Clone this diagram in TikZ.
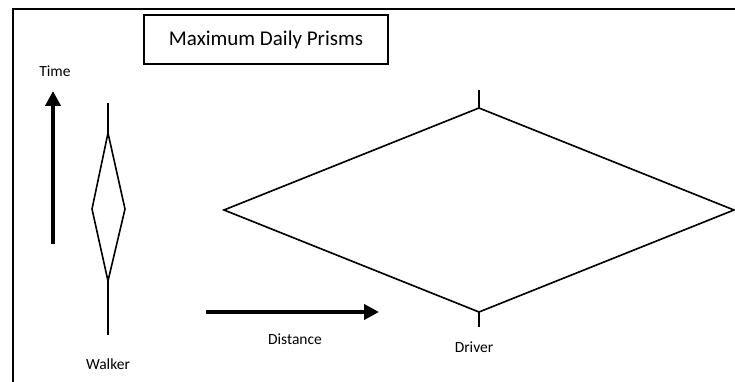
\documentclass[tikz,border=0pt]{standalone}
\usepackage{fontspec}
\setmainfont{Carlito}
\usetikzlibrary{arrows.meta}
\begin{document}
\begin{tikzpicture}[x=1pt,y=-1pt,
  frameline/.style={line width=1.6pt},
  prism/.style={line width=1.6pt, line join=miter},
  bigarrow/.style={line width=3.8pt, -{Triangle[length=15pt,width=15pt]}},
  lab/.style={font=\fontsize{15.5}{18}\selectfont, inner sep=0pt}]
\useasboundingbox (0,0) rectangle (735,382);
% frame
\coordinate (fbl) at (13,385);
\coordinate (ftl) at (13,9);
\coordinate (ftr) at (738,9);
\draw[frameline] (fbl) -- (ftl) -- (ftr);
% title
\node[draw, line width=1.2pt, minimum width=244pt, minimum height=49pt, inner sep=0pt,
      font=\fontsize{21}{25}\selectfont] (title) at (266,39.5) {Maximum Daily Prisms};
% time axis
\node[lab] (time) at (55,71) {Time};
\coordinate (tb) at (53,244);
\coordinate (tt) at (53,91);
\draw[bigarrow] (tb) -- (tt);
% walker prism
\coordinate (wtop0) at (108,103);
\coordinate (wt) at (108,133);
\coordinate (wl) at (92,209);
\coordinate (wr) at (125,209);
\coordinate (wb) at (108,281);
\coordinate (wbot0) at (108,335);
\draw[prism] (wtop0) -- (wt);
\draw[prism] (wt) -- (wr) -- (wb) -- (wl) -- cycle;
\draw[prism] (wb) -- (wbot0);
\node[lab] (walker) at (108,364) {Walker};
% distance axis
\coordinate (da) at (206,312);
\coordinate (db) at (379,312);
\draw[bigarrow] (da) -- (db);
\node[lab] (dist) at (295,339) {Distance};
% driver prism
\coordinate (dtop0) at (479,90);
\coordinate (dt) at (479,108);
\coordinate (dl) at (224,210);
\coordinate (dr) at (734,210);
\coordinate (db2) at (479,312);
\coordinate (dbot0) at (479,327);
\draw[prism] (dtop0) -- (dt);
\draw[prism] (dt) -- (dr) -- (db2) -- (dl) -- cycle;
\draw[prism] (db2) -- (dbot0);
\node[lab] (driver) at (474,347) {Driver};
\end{tikzpicture}
\end{document}
